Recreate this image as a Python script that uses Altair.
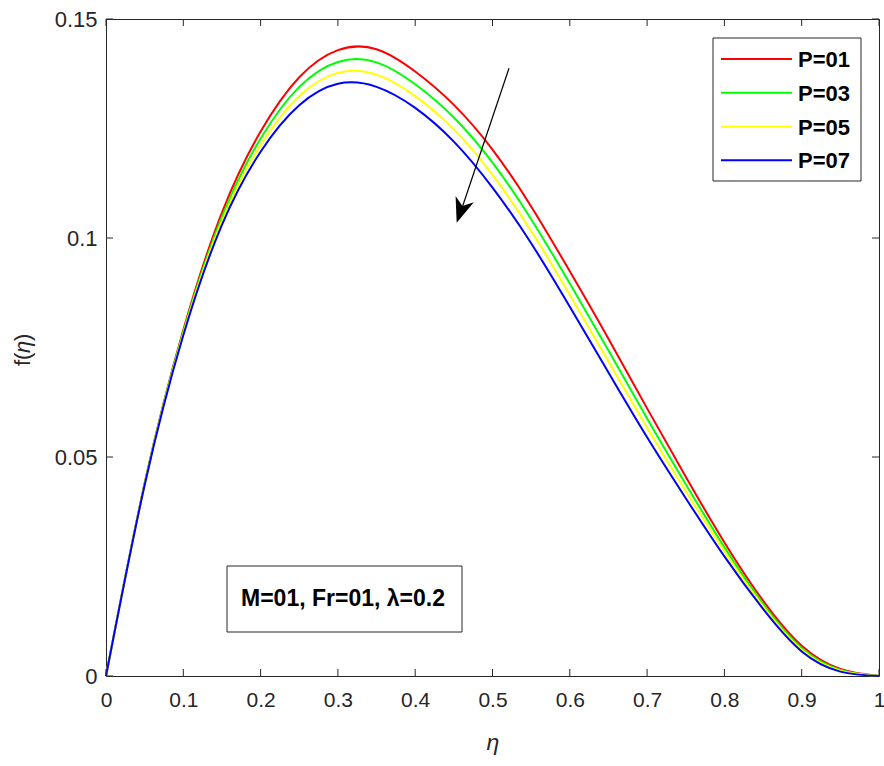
import altair as alt
import pandas as pd

# ---------------- data ----------------
eta = [0.0, 0.05, 0.1, 0.15, 0.2, 0.25, 0.3, 0.35, 0.4, 0.45, 0.5,
       0.55, 0.6, 0.65, 0.7, 0.75, 0.8, 0.85, 0.9, 0.95, 1.0]

f_p01 = [0.0, 0.0440, 0.0790, 0.1058, 0.1243, 0.1367, 0.1429, 0.1431, 0.1380, 0.1304, 0.1202,
         0.1072, 0.0924, 0.0770, 0.0611, 0.0455, 0.0305, 0.0172, 0.0069, 0.0016, 0.0]
f_p03 = [0.0, 0.0439, 0.0786, 0.1048, 0.1227, 0.1345, 0.1402, 0.1401, 0.1351, 0.1275, 0.1172,
         0.1043, 0.0896, 0.0743, 0.0588, 0.0438, 0.0294, 0.0165, 0.0064, 0.0014, 0.0]
f_p05 = [0.0, 0.0437, 0.0782, 0.1039, 0.1212, 0.1324, 0.1377, 0.1373, 0.1324, 0.1248, 0.1144,
         0.1016, 0.0870, 0.0718, 0.0567, 0.0422, 0.0284, 0.0159, 0.0060, 0.0012, 0.0]
f_p07 = [0.0, 0.0436, 0.0778, 0.1030, 0.1197, 0.1303, 0.1352, 0.1345, 0.1297, 0.1220, 0.1115,
         0.0988, 0.0843, 0.0693, 0.0545, 0.0406, 0.0273, 0.0153, 0.0056, 0.0010, 0.0]

series = ["P=01", "P=03", "P=05", "P=07"]
colors = ["#FF0000", "#00FF00", "#FFFF00", "#0000FF"]

x_ticks = [0.0, 0.1, 0.2, 0.3, 0.4, 0.5, 0.6, 0.7, 0.8, 0.9, 1.0]
y_ticks = [0.0, 0.05, 0.1, 0.15]

annotation_text = "M=01, Fr=01, λ=0.2"
y_title_parts = ["f(", "η", ")"]

# ---------------- build table ----------------
rows = []
for name, vals in zip(series, [f_p01, f_p03, f_p05, f_p07]):
    for e, v in zip(eta, vals):
        rows.append({"series": name, "eta": e, "f": v})
df = pd.DataFrame(rows)

W, H = 773, 657
FONT = "Liberation Sans"
AX = "#262626"

xscale = alt.Scale(domain=[0, 1], nice=False, zero=False)
yscale = alt.Scale(domain=[0, 0.15], nice=False)

lines = alt.Chart(df).mark_line(strokeWidth=2, interpolate="natural").encode(
    x=alt.X("eta:Q", scale=xscale, title="η",
            axis=alt.Axis(values=x_ticks, format="~g", ticks=False, tickSize=0, domain=False,
                          grid=False, labelPadding=13, labelFontSize=21, labelFlush=False,
                          titleFontStyle="italic", titleFontWeight="normal", titleFontSize=23,
                          titleY=73, titleBaseline="alphabetic")),
    y=alt.Y("f:Q", scale=yscale, title="",
            axis=alt.Axis(values=y_ticks, format="~g", ticks=False, tickSize=0, domain=False,
                          grid=False, labelPadding=9, labelFontSize=22, labelFlush=False)),
    color=alt.Color("series:N", scale=alt.Scale(domain=series, range=colors), legend=None),
)

xt = pd.DataFrame({"eta": x_ticks})
yt = pd.DataFrame({"f": y_ticks})
tick_bottom = alt.Chart(xt).mark_rule(color=AX, strokeWidth=1).encode(
    x=alt.X("eta:Q", scale=xscale), y=alt.value(H), y2=alt.value(H - 7))
tick_top = alt.Chart(xt).mark_rule(color=AX, strokeWidth=1).encode(
    x=alt.X("eta:Q", scale=xscale), y=alt.value(0), y2=alt.value(7))
tick_left = alt.Chart(yt).mark_rule(color=AX, strokeWidth=1).encode(
    y=alt.Y("f:Q", scale=yscale), x=alt.value(0), x2=alt.value(7))
tick_right = alt.Chart(yt).mark_rule(color=AX, strokeWidth=1).encode(
    y=alt.Y("f:Q", scale=yscale), x=alt.value(W), x2=alt.value(W - 7))

one = pd.DataFrame({"k": [0]})

# y axis title: f( upright, eta italic, ) upright, rotated
yt_layers = []
yt_pos = [(347, "normal"), (334, "italic"), (322, "normal")]
for part, (py, style) in zip(y_title_parts, yt_pos):
    pdf = pd.DataFrame({"label": [part]})
    yt_layers.append(alt.Chart(pdf).mark_text(
        align="left", baseline="alphabetic", angle=270, font=FONT, fontSize=22,
        fontStyle=style, color=AX).encode(x=alt.value(-76), y=alt.value(py), text="label:N"))

# arrow
arrow_line = alt.Chart(one).mark_rule(color="black", strokeWidth=1.2).encode(
    x=alt.value(403), y=alt.value(49.3), x2=alt.value(356.7), y2=alt.value(187))
arrow_head = alt.Chart(one).mark_point(
    shape="M0,1L-0.77,-1L0,-0.42L0.77,-1Z", filled=True, color="black", opacity=1,
    size=625, angle=18.7, strokeWidth=0).encode(x=alt.value(354.7), y=alt.value(191.9))

# legend (drawn)
legend_box = alt.Chart(one).mark_rect(fill="white", stroke=AX, strokeWidth=1).encode(
    x=alt.value(607), x2=alt.value(755), y=alt.value(19), y2=alt.value(162))
legend_layers = [legend_box]
row_y = [40, 73.7, 107.7, 141.3]
for name, col, ry in zip(series, colors, row_y):
    ld = pd.DataFrame({"label": [name]})
    legend_layers.append(alt.Chart(ld).mark_rule(color=col, strokeWidth=2).encode(
        x=alt.value(615), x2=alt.value(686), y=alt.value(ry)))
    legend_layers.append(alt.Chart(ld).mark_text(
        align="left", baseline="middle", font=FONT, fontSize=22, fontWeight="bold",
        color="black").encode(x=alt.value(692), y=alt.value(ry + 1), text="label:N"))

# annotation box
ann = pd.DataFrame({"label": [annotation_text]})
ann_box = alt.Chart(ann).mark_rect(fill="white", stroke=AX, strokeWidth=1).encode(
    x=alt.value(121), x2=alt.value(356), y=alt.value(547), y2=alt.value(613))
ann_text = alt.Chart(ann).mark_text(
    align="center", baseline="middle", font=FONT, fontSize=23, fontWeight="bold",
    color="black").encode(x=alt.value(237), y=alt.value(580), text="label:N")

chart = alt.layer(
    lines, tick_bottom, tick_top, tick_left, tick_right,
    arrow_line, arrow_head, ann_box, ann_text, *legend_layers, *yt_layers
).properties(
    width=W, height=H,
    padding={"left": 106, "top": 19, "right": 5, "bottom": 90},
    autosize=alt.AutoSizeParams(type="none"),
    background="white",
).configure_view(
    stroke=AX, strokeWidth=1
).configure_axis(
    labelFont=FONT, titleFont=FONT, labelColor=AX, titleColor=AX
)

chart.save("out.html", embed_options={"renderer": "svg", "actions": False})
